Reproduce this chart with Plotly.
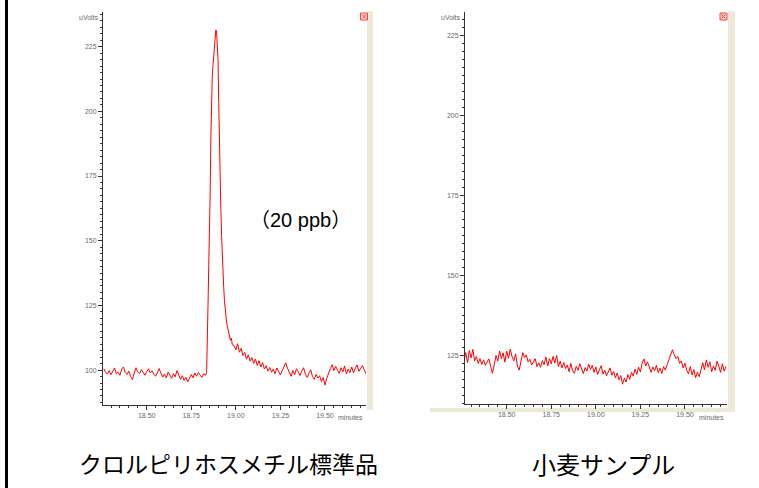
import numpy as np
import plotly.graph_objects as go

# ---------------- data ----------------
# Left chromatogram (standard, 20 ppb): baseline before peak (step 0.01 min from 18.26)
std_pre_start = 18.26
std_pre_vals = [100.5, 99.0, 98.5, 99.8, 98.2, 99.5, 100.8, 98.6, 99.2, 98.0,
                100.4, 101.2, 99.0, 98.3, 99.6, 97.5, 96.3, 98.8, 100.9, 99.3,
                98.6, 100.2, 99.1, 98.0, 99.4, 100.5, 98.9, 99.7, 98.4, 97.6,
                99.0, 100.6, 98.8, 97.3, 98.5, 97.0, 99.2, 98.1, 96.8, 98.6,
                97.4, 99.8, 97.9, 96.4, 97.8, 96.0, 97.2, 95.4, 96.9, 98.3,
                97.0, 98.9, 97.6, 99.1, 98.0, 97.2, 98.6, 98.0]
# peak region (explicit times)
std_peak_times = [18.836, 18.840, 18.844, 18.848, 18.852, 18.856, 18.860, 18.864, 18.868, 18.872,
                  18.876, 18.880, 18.884, 18.888, 18.892, 18.896, 18.900, 18.904, 18.908, 18.912,
                  18.916, 18.920, 18.924, 18.928, 18.932, 18.936, 18.940, 18.944, 18.948, 18.952,
                  18.956, 18.960, 18.965, 18.970, 18.975, 18.980]
std_peak_vals = [99.0, 108.0, 125.0, 140.0, 150.0, 168.0, 190.0, 205.0, 214.0, 218.0,
                 221.0, 224.0, 228.0, 231.5, 231.0, 227.0, 220.0, 203.0, 185.0, 172.0,
                 162.0, 152.0, 143.0, 137.0, 132.0, 127.0, 123.0, 120.0, 118.5, 117.0,
                 115.5, 114.0, 112.5, 111.5, 112.3, 109.8]
# tail / baseline after peak (step 0.01 min from 18.99)
std_post_start = 18.99
std_post_vals = [109.5, 107.8, 110.2, 106.9, 108.4, 105.6, 106.8, 104.2, 105.9, 103.5,
                 104.8, 102.6, 104.3, 101.8, 103.6, 101.2, 102.9, 100.4, 101.7, 99.6,
                 101.0, 99.2, 100.3, 98.6, 100.8, 99.4, 98.1, 99.7, 101.5, 102.8,
                 100.6, 98.9, 97.6, 99.8, 98.2, 100.5, 99.1, 97.9, 99.6, 100.9,
                 98.4, 97.2, 98.8, 100.1, 97.5, 96.4, 98.3, 96.9, 97.8, 95.6,
                 97.1, 94.2, 96.8, 99.0, 100.6, 102.1, 99.8, 101.4, 100.2, 98.7,
                 100.9, 99.3, 101.6, 98.5, 100.4, 99.0, 101.2, 98.9, 100.7, 102.0,
                 99.5, 100.8, 101.7, 100.1, 98.6]

# Right chromatogram (wheat sample): step 0.01 min from 18.26
wheat_start = 18.26
wheat_vals = [123.0, 125.8, 122.6, 126.4, 124.1, 126.8, 123.2, 124.6, 122.4, 123.9,
              122.1, 123.5, 121.8, 122.9, 123.8, 121.5, 119.3, 122.0, 124.9, 123.1,
              126.3, 123.9, 125.7, 122.8, 126.2, 124.0, 126.9, 124.5, 123.2, 125.4,
              121.6, 120.3, 123.5, 125.8, 124.2, 125.1, 122.9, 123.7, 121.9, 122.8,
              123.9, 121.4, 122.6, 121.2, 123.3, 122.0, 124.4, 121.6, 123.9, 122.3,
              124.6, 122.5, 124.9, 121.4, 123.1, 121.0, 122.7, 120.8, 121.9, 119.8,
              122.4, 120.1, 119.3, 121.5, 120.2, 122.3, 120.7, 119.2, 121.1, 120.0,
              122.2, 120.5, 121.8, 119.6, 121.3, 118.9, 120.4, 121.7, 119.1, 120.3,
              118.5, 119.8, 121.0, 118.7, 119.9, 117.9, 119.4, 117.3, 118.6, 115.9,
              117.8, 116.6, 118.9, 117.4, 119.6, 118.4, 120.6, 119.0, 121.2, 119.7,
              122.5, 123.8, 121.6, 122.9, 120.8, 119.6, 121.3, 120.1, 121.8, 119.5,
              120.9, 119.2, 121.4, 120.3, 122.0, 123.6, 124.8, 126.7, 125.1, 123.9,
              124.6, 122.4, 123.2, 121.0, 122.5, 120.3, 119.1, 121.4, 118.8, 120.5,
              117.9, 119.6, 118.2, 120.8, 122.6, 120.4, 123.5, 121.2, 122.9, 119.8,
              121.6, 120.2, 123.1, 121.5, 119.6, 122.3, 120.0, 121.4]

step = 0.01
std_t = (list(std_pre_start + step * np.arange(len(std_pre_vals)))
         + std_peak_times
         + list(std_post_start + step * np.arange(len(std_post_vals))))
std_v = std_pre_vals + std_peak_vals + std_post_vals
wheat_t = wheat_start + step * np.arange(len(wheat_vals))

label_left = "クロルピリホスメチル標準品"
label_right = "小麦サンプル"
conc_label = "（20 ppb）"

# ---------------- figure ----------------
W, H = 759, 488
def px(x):
    return x / W
def py(y):
    return 1 - y / H

fig = go.Figure()
fig.add_trace(go.Scatter(x=std_t, y=std_v, mode="lines",
                         line=dict(color="#ff0000", width=1), xaxis="x", yaxis="y",
                         hoverinfo="skip"))
fig.add_trace(go.Scatter(x=wheat_t, y=wheat_vals, mode="lines",
                         line=dict(color="#ff0000", width=1), xaxis="x2", yaxis="y2",
                         hoverinfo="skip"))

tickfont = dict(family="Liberation Sans, Arial", size=7, color="#6a6a6a")
common_x = dict(showgrid=False, zeroline=False, showline=True, linecolor="#333333", linewidth=1,
                ticks="outside", ticklen=4, tickcolor="#333333", tickwidth=1,
                dtick=0.25, tick0=18.0, tickformat=".2f", tickfont=tickfont,
                minor=dict(dtick=0.05, tick0=18.0, ticks="outside", ticklen=2, tickcolor="#333333"),
                fixedrange=True)
common_y = dict(showgrid=False, zeroline=False, showline=True, linecolor="#333333", linewidth=1,
                ticks="outside", ticklen=4, tickcolor="#333333", tickwidth=1,
                dtick=25, tick0=0, tickfont=tickfont,
                minor=dict(dtick=2.5, tick0=0, ticks="outside", ticklen=2, tickcolor="#333333"),
                fixedrange=True)

fig.update_layout(
    width=W, height=H, autosize=False,
    margin=dict(l=0, r=0, t=0, b=0),
    paper_bgcolor="white", plot_bgcolor="white",
    showlegend=False,
    xaxis=dict(common_x, domain=[px(103), px(366)], range=[18.255, 19.73], anchor="y"),
    yaxis=dict(common_y, domain=[py(405), py(12)], range=[86.5, 238.4], anchor="x"),
    xaxis2=dict(common_x, domain=[px(465), px(727)], range=[18.266, 19.736], anchor="y2"),
    yaxis2=dict(common_y, domain=[py(404), py(12)], range=[109.7, 232.4], anchor="x2"),
)

shapes = []
# black vertical bar at far left
shapes.append(dict(type="line", xref="paper", yref="paper", x0=px(6.5), x1=px(6.5), y0=0, y1=1,
                   line=dict(color="black", width=3)))
# beige scroll strips
for x0, x1 in [(367, 373), (728, 735)]:
    shapes.append(dict(type="rect", xref="paper", yref="paper", x0=px(x0), x1=px(x1),
                       y0=py(410), y1=py(11), fillcolor="#ece9d8", line=dict(width=0), layer="below"))
shapes.append(dict(type="rect", xref="paper", yref="paper", x0=px(430), x1=px(735),
                   y0=py(412), y1=py(408), fillcolor="#ece9d8", line=dict(width=0), layer="below"))
# small red close icons
for cx in [364, 723.5]:
    shapes.append(dict(type="rect", xref="paper", yref="paper", x0=px(cx - 3.5), x1=px(cx + 3.5),
                       y0=py(20), y1=py(13), fillcolor="#ffd0d0", line=dict(color="#ff4040", width=1)))
    shapes.append(dict(type="line", xref="paper", yref="paper", x0=px(cx - 2), x1=px(cx + 2),
                       y0=py(18.5), y1=py(14.5), line=dict(color="#ff4040", width=1)))
    shapes.append(dict(type="line", xref="paper", yref="paper", x0=px(cx - 2), x1=px(cx + 2),
                       y0=py(14.5), y1=py(18.5), line=dict(color="#ff4040", width=1)))
fig.update_layout(shapes=shapes)

small = dict(family="Liberation Sans, Arial", size=7, color="#6a6a6a")
ann = []
ann.append(dict(text="uVolts", xref="paper", yref="paper", x=px(101), y=py(17), xanchor="right",
                yanchor="middle", showarrow=False, font=small))
ann.append(dict(text="uVolts", xref="paper", yref="paper", x=px(463), y=py(17), xanchor="right",
                yanchor="middle", showarrow=False, font=small))
ann.append(dict(text="minutes", xref="paper", yref="paper", x=px(365), y=py(417), xanchor="right",
                yanchor="middle", showarrow=False, font=small))
ann.append(dict(text="minutes", xref="paper", yref="paper", x=px(726), y=py(417), xanchor="right",
                yanchor="middle", showarrow=False, font=small))
ann.append(dict(text=conc_label, xref="paper", yref="paper", x=px(300), y=py(220), xanchor="center",
                yanchor="middle", showarrow=False,
                font=dict(family="Liberation Sans, Noto Sans CJK JP", size=20, color="black")))
ann.append(dict(text=label_left, xref="paper", yref="paper", x=px(228), y=py(463), xanchor="center",
                yanchor="middle", showarrow=False,
                font=dict(family="Noto Sans CJK JP", size=23, color="black")))
ann.append(dict(text=label_right, xref="paper", yref="paper", x=px(603), y=py(463), xanchor="center",
                yanchor="middle", showarrow=False,
                font=dict(family="Noto Sans CJK JP", size=24, color="black")))
fig.update_layout(annotations=ann)

fig.write_html("out.html", config={"displayModeBar": False, "staticPlot": True},
               post_script="document.body.style.margin='0';document.body.style.overflow='hidden';")
